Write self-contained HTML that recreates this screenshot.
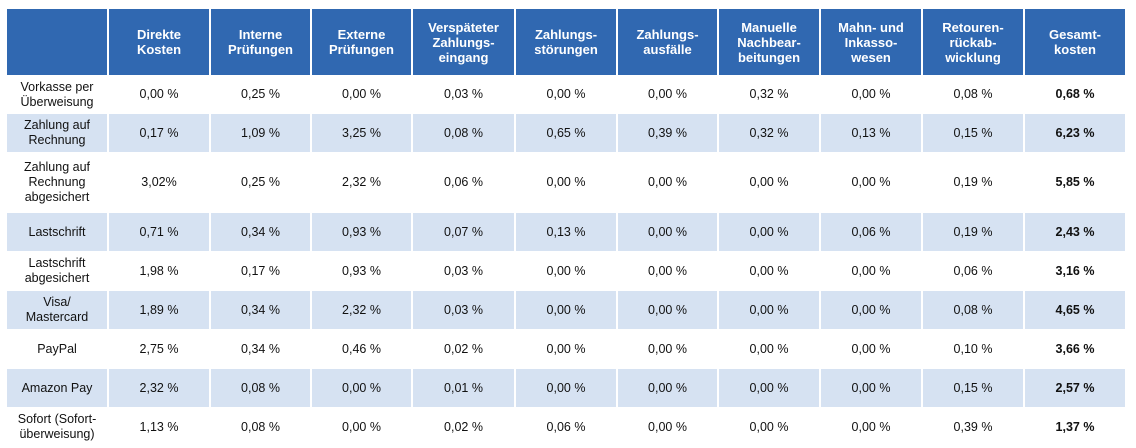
<!DOCTYPE html>
<html><head><meta charset="utf-8"><style>
html,body{margin:0;padding:0;background:#fff;width:1136px;height:448px;overflow:hidden}
table{position:absolute;left:5px;top:8px;border-collapse:separate;border-spacing:2px 1px;table-layout:fixed;font-family:"Liberation Sans",Arial,sans-serif;font-size:12.5px;color:#111}
td,th{text-align:center;vertical-align:middle;padding:0;line-height:15px}
th{background:#3068b1;color:#fff;font-weight:bold;font-size:13px;height:66px}
tr.alt td{background:#d6e2f2}
td.b{font-weight:bold}
</style></head><body>
<table>
<colgroup><col style="width:100px"><col style="width:100px"><col style="width:99px"><col style="width:99px"><col style="width:101px"><col style="width:100px"><col style="width:99px"><col style="width:100px"><col style="width:100px"><col style="width:100px"><col style="width:100px"></colgroup>
<tr><th></th><th>Direkte<br>Kosten</th><th>Interne<br>Prüfungen</th><th>Externe<br>Prüfungen</th><th>Verspäteter<br>Zahlungs-<br>eingang</th><th>Zahlungs-<br>störungen</th><th>Zahlungs-<br>ausfälle</th><th>Manuelle<br>Nachbear-<br>beitungen</th><th>Mahn- und<br>Inkasso-<br>wesen</th><th>Retouren-<br>rückab-<br>wicklung</th><th>Gesamt-<br>kosten</th></tr>
<tr style="height:37px"><td>Vorkasse per<br>Überweisung</td><td>0,00 %</td><td>0,25 %</td><td>0,00 %</td><td>0,03 %</td><td>0,00 %</td><td>0,00 %</td><td>0,32 %</td><td>0,00 %</td><td>0,08 %</td><td class="b">0,68 %</td></tr>
<tr class="alt" style="height:38px"><td>Zahlung auf<br>Rechnung</td><td>0,17 %</td><td>1,09 %</td><td>3,25 %</td><td>0,08 %</td><td>0,65 %</td><td>0,39 %</td><td>0,32 %</td><td>0,13 %</td><td>0,15 %</td><td class="b">6,23 %</td></tr>
<tr style="height:59px"><td>Zahlung auf<br>Rechnung<br>abgesichert</td><td>3,02%</td><td>0,25 %</td><td>2,32 %</td><td>0,06 %</td><td>0,00 %</td><td>0,00 %</td><td>0,00 %</td><td>0,00 %</td><td>0,19 %</td><td class="b">5,85 %</td></tr>
<tr class="alt" style="height:38px"><td>Lastschrift</td><td>0,71 %</td><td>0,34 %</td><td>0,93 %</td><td>0,07 %</td><td>0,13 %</td><td>0,00 %</td><td>0,00 %</td><td>0,06 %</td><td>0,19 %</td><td class="b">2,43 %</td></tr>
<tr style="height:38px"><td>Lastschrift<br>abgesichert</td><td>1,98 %</td><td>0,17 %</td><td>0,93 %</td><td>0,03 %</td><td>0,00 %</td><td>0,00 %</td><td>0,00 %</td><td>0,00 %</td><td>0,06 %</td><td class="b">3,16 %</td></tr>
<tr class="alt" style="height:38px"><td>Visa/<br>Mastercard</td><td>1,89 %</td><td>0,34 %</td><td>2,32 %</td><td>0,03 %</td><td>0,00 %</td><td>0,00 %</td><td>0,00 %</td><td>0,00 %</td><td>0,08 %</td><td class="b">4,65 %</td></tr>
<tr style="height:38px"><td>PayPal</td><td>2,75 %</td><td>0,34 %</td><td>0,46 %</td><td>0,02 %</td><td>0,00 %</td><td>0,00 %</td><td>0,00 %</td><td>0,00 %</td><td>0,10 %</td><td class="b">3,66 %</td></tr>
<tr class="alt" style="height:38px"><td>Amazon Pay</td><td>2,32 %</td><td>0,08 %</td><td>0,00 %</td><td>0,01 %</td><td>0,00 %</td><td>0,00 %</td><td>0,00 %</td><td>0,00 %</td><td>0,15 %</td><td class="b">2,57 %</td></tr>
<tr style="height:38px"><td>Sofort (Sofort-<br>überweisung)</td><td>1,13 %</td><td>0,08 %</td><td>0,00 %</td><td>0,02 %</td><td>0,06 %</td><td>0,00 %</td><td>0,00 %</td><td>0,00 %</td><td>0,39 %</td><td class="b">1,37 %</td></tr>
</table>
</body></html>
